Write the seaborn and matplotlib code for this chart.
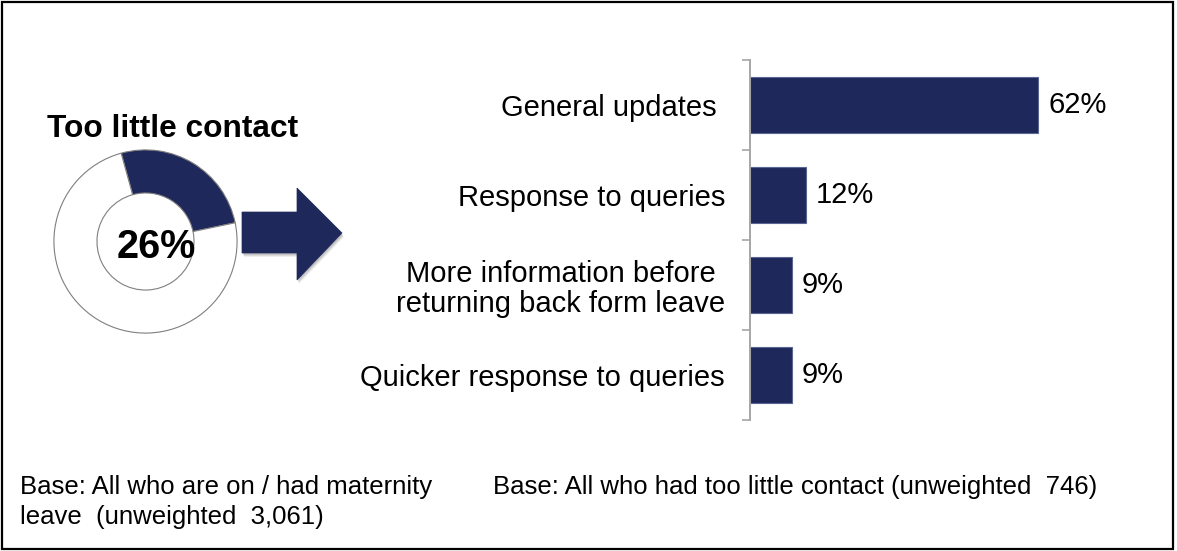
import matplotlib
matplotlib.use("Agg")
import matplotlib.pyplot as plt
from matplotlib.patches import Polygon, Rectangle
import seaborn as sns

# Survey results
categories = [
    "General updates ",
    "Response to queries",
    "More information before\nreturning back form leave",
    "Quicker response to queries",
]
values = [62, 12, 9, 9]
too_little_share = 26

headline = "Too little contact"
base_left = "Base: All who are on / had maternity\nleave  (unweighted  3,061)"
base_right = "Base: All who had too little contact (unweighted  746)"

NAVY = "#1F285B"
GREY = "#A6A6A6"

sns.set_theme(style="white")
plt.rcParams["font.family"] = ["Liberation Sans", "DejaVu Sans"]

W, H = 1177, 551
fig = plt.figure(figsize=(W / 100, H / 100), dpi=100)
fig.patch.set_facecolor("white")


def fx(px):
    return px / W


def fy(py):
    return 1 - py / H


# Frame around the whole figure
fig.add_artist(Rectangle((fx(2), fy(549)), fx(1171), 547 / H, transform=fig.transFigure,
                         fill=False, edgecolor="black", linewidth=1.6))

# ---- Donut ----
cx, cy, r = 145.5, 241.5, 92.5
ax_d = fig.add_axes([fx(cx - r), fy(cy + r), 2 * r / W, 2 * r / H])
ax_d.pie([too_little_share, 100 - too_little_share], colors=[NAVY, "white"],
         startangle=105.4, counterclock=False, radius=1.0,
         wedgeprops=dict(width=0.47, edgecolor="#7F7F7F", linewidth=0.8))
ax_d.set_xlim(-1.01, 1.01)
ax_d.set_ylim(-1.01, 1.01)
ax_d.set_aspect("equal")
ax_d.axis("off")
ax_d.text(0.12, -0.06, f"{too_little_share}%", ha="center", va="center",
          fontsize=28.5, fontweight="bold", color="black")

fig.text(fx(173), fy(129), headline, ha="center", va="center",
         fontsize=22.8, fontweight="bold", color="black")

# ---- Arrow with a soft drop shadow ----
arrow_pts = [(242, 212), (297, 212), (297, 188), (342, 233),
             (297, 280), (297, 253), (242, 253)]
for off, alpha in [(4, 0.12), (3, 0.18), (2, 0.25)]:
    fig.add_artist(Polygon([(fx(x + off * 0.5), fy(y + off)) for x, y in arrow_pts],
                           closed=True, transform=fig.transFigure,
                           facecolor="#808080", edgecolor="none", alpha=alpha))
fig.add_artist(Polygon([(fx(x), fy(y)) for x, y in arrow_pts], closed=True,
                       transform=fig.transFigure, facecolor=NAVY, edgecolor=NAVY, linewidth=0.5))

# ---- Bars ----
left_px, right_px, top_px, bot_px = 750, 1130, 60, 420
ax = fig.add_axes([fx(left_px), fy(bot_px), (right_px - left_px) / W, (bot_px - top_px) / H])
sns.barplot(x=values, y=categories, orient="h", color=NAVY, width=0.63,
            edgecolor="#5B6592", linewidth=0.8, saturation=1, ax=ax)
ax.set_xlim(0, (right_px - left_px) / 4.65)
ax.set_ylim(len(categories) - 0.5, -0.5)
ax.set_xlabel("")
ax.set_ylabel("")
ax.set_xticks([])
for s in ["top", "right", "bottom"]:
    ax.spines[s].set_visible(False)
ax.spines["left"].set_color(GREY)
ax.spines["left"].set_linewidth(1.4)
ax.set_yticks([i - 0.5 for i in range(len(categories) + 1)], minor=True)
ax.tick_params(axis="y", which="minor", left=True, length=6, width=1.2, color=GREY)
ax.tick_params(axis="y", which="major", left=False, length=0, pad=18, labelsize=21,
               labelcolor="black")
for lbl in ax.get_yticklabels():
    lbl.set_multialignment("center")
    lbl.set_linespacing(1.1)

for cont in ax.containers:
    ax.bar_label(cont, labels=[f"{v}%" for v in values], padding=7,
                 fontsize=21, color="black")

# ---- Base notes ----
fig.text(fx(20), fy(502), base_left, ha="left", va="center", fontsize=18.5,
         color="black", linespacing=1.32)
fig.text(fx(493), fy(487), base_right, ha="left", va="center", fontsize=18.5,
         color="black")

fig.savefig("out.png", dpi=100, facecolor="white")
